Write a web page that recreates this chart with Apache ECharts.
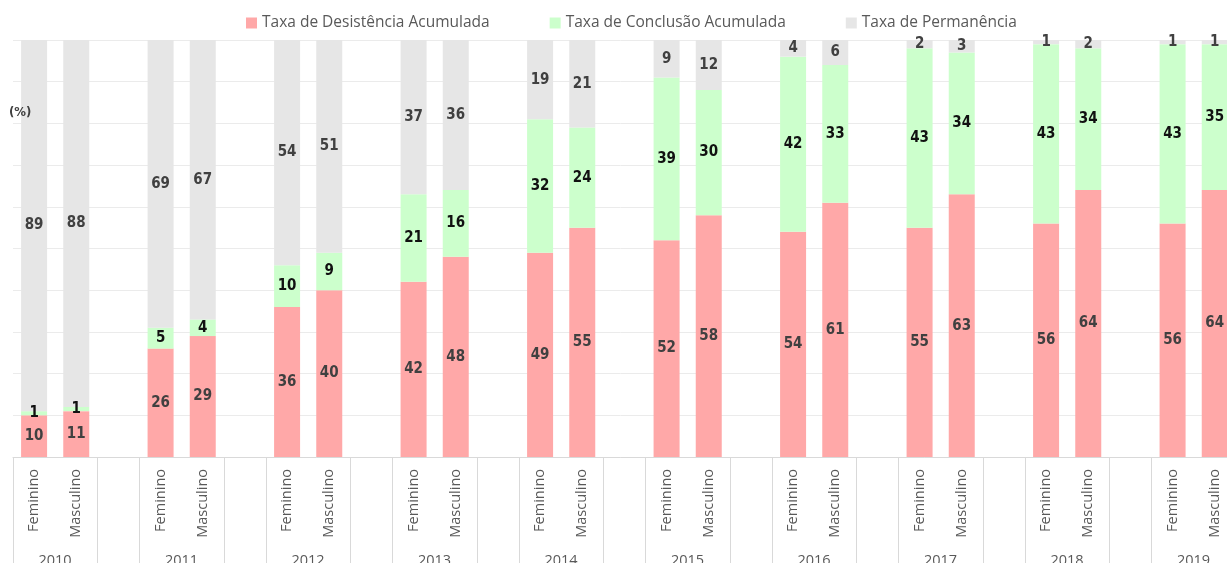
<!DOCTYPE html>
<html>
<head>
<meta charset="utf-8">
<script src="https://cdn.jsdelivr.net/npm/echarts@6/dist/echarts.min.js"></script>
<style>
  html, body { margin: 0; padding: 0; background: #fff; }
  #chart { width: 1227px; height: 563px; }
</style>
</head>
<body>
<div id="chart"></div>
<script>
// Years and sexes on the category axis
const years = ['2010', '2011', '2012', '2013', '2014', '2015', '2016', '2017', '2018', '2019'];
const sexes = ['Feminino', 'Masculino'];

// Rates (%) per year, women then men
const desistenciaF = [10, 26, 36, 42, 49, 52, 54, 55, 56, 56];
const desistenciaM = [11, 29, 40, 48, 55, 58, 61, 63, 64, 64];
const conclusaoF   = [1, 5, 10, 21, 32, 39, 42, 43, 43, 43];
const conclusaoM   = [1, 4, 9, 16, 24, 30, 33, 34, 34, 35];
const permanenciaF = [89, 69, 54, 37, 19, 9, 4, 2, 1, 1];
const permanenciaM = [88, 67, 51, 36, 21, 12, 6, 3, 2, 1];

// Each year takes three slots: Feminino, Masculino and an empty spacer
const categories = [];
const yearSlots = [];
years.forEach(y => {
  categories.push(sexes[0], sexes[1], '');
  yearSlots.push(y, y, '');
});

function spread(f, m) {
  const out = [];
  for (let i = 0; i < years.length; i++) out.push(f[i], m[i], '-');
  return out;
}

const labelFont = '"DejaVu Sans Condensed", "DejaVu Sans", sans-serif';

function seriesOf(name, f, m, color, textColor) {
  return {
    name: name,
    type: 'bar',
    stack: 'total',
    barWidth: 26,
    data: spread(f, m),
    itemStyle: { color: color },
    label: {
      show: true,
      position: 'inside',
      color: textColor,
      fontFamily: labelFont,
      fontWeight: 'bold',
      fontSize: 15,
      formatter: p => (p.value === '-' ? '' : p.value)
    },
    emphasis: { disabled: true }
  };
}

const chart = echarts.init(document.getElementById('chart'));
chart.setOption({
  animation: false,
  textStyle: { fontFamily: '"Open Sans", sans-serif' },
  legend: {
    top: 10,
    left: 241,
    itemWidth: 11,
    itemHeight: 11,
    itemGap: 60,
    icon: 'rect',
    textStyle: { color: '#595959', fontSize: 15.5, fontFamily: '"Open Sans", sans-serif' },
    data: ['Taxa de Desistência Acumulada', 'Taxa de Conclusão Acumulada', 'Taxa de Permanência']
  },
  grid: { left: 13, top: 40, width: 1265, height: 417, containLabel: false, outerBoundsMode: 'none' },
  xAxis: [
    {
      type: 'category',
      data: categories,
      position: 'bottom',
      axisLine: { show: true, lineStyle: { color: '#d9d9d9', width: 1 } },
      axisTick: {
        show: true,
        length: 110,
        lineStyle: { color: '#d9d9d9' },
        interval: (i) => i % 3 !== 1
      },
      axisLabel: {
        interval: 0,
        rotate: 90,
        margin: 12,
        color: '#595959',
        fontSize: 14.5,
        fontFamily: '"Open Sans", sans-serif'
      }
    },
    {
      type: 'category',
      data: yearSlots,
      position: 'bottom',
      axisLine: { show: false },
      axisTick: { show: false },
      axisLabel: {
        interval: (i) => i % 3 === 0,
        margin: 96,
        padding: [0, 0, 0, 42],
        color: '#595959',
        fontSize: 14.5,
        fontFamily: '"Open Sans", sans-serif'
      }
    }
  ],
  yAxis: {
    type: 'value',
    min: 0,
    max: 100,
    interval: 10,
    axisLine: { show: false },
    axisTick: { show: false },
    axisLabel: { show: false },
    splitLine: { lineStyle: { color: '#ebebeb', width: 1 } }
  },
  graphic: [{
    type: 'text',
    left: 9,
    top: 106,
    z: 100,
    style: { text: '(%)', fill: '#404040', font: 'bold 13px ' + labelFont }
  }],
  series: [
    seriesOf('Taxa de Desistência Acumulada', desistenciaF, desistenciaM, '#FFA8A8', '#404040'),
    seriesOf('Taxa de Conclusão Acumulada', conclusaoF, conclusaoM, '#CCFFCC', '#111111'),
    seriesOf('Taxa de Permanência', permanenciaF, permanenciaM, '#E6E6E6', '#404040')
  ]
});
</script>
</body>
</html>
